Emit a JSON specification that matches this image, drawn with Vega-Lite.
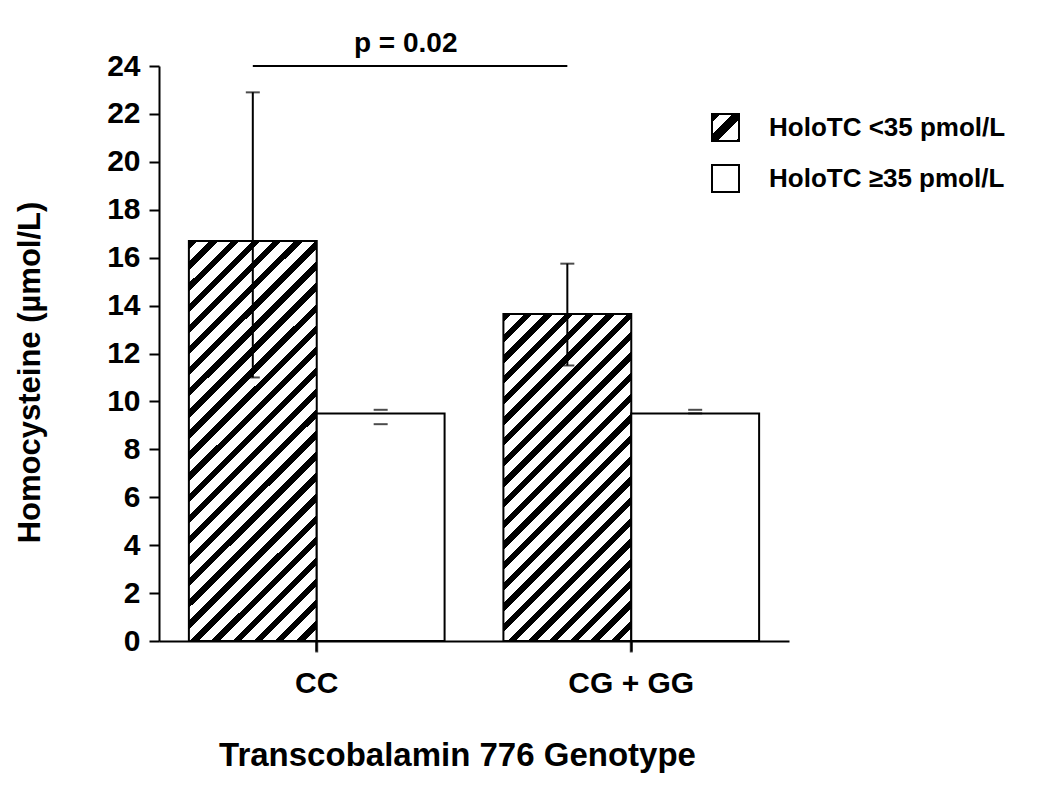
{
  "$schema": "https://vega.github.io/schema/vega-lite/v6.json",
  "width": 630,
  "height": 575,
  "autosize": {"type": "none"},
  "padding": {"left": 159, "top": 66, "right": 261, "bottom": 148},
  "background": "white",
  "config": {
    "font": "Liberation Sans",
    "view": {"stroke": null},
    "axis": {
      "domainColor": "black", "tickColor": "black", "domainWidth": 2, "tickWidth": 2,
      "labelColor": "black", "titleColor": "black", "labelFont": "Liberation Sans", "titleFont": "Liberation Sans",
      "labelFontWeight": "bold", "titleFontWeight": "bold", "grid": false
    },
    "axisX": {"labelAngle": 0, "tickSize": 10, "labelPadding": 32, "labelBaseline": "middle", "labelFontSize": 30,
      "titleFontSize": 33, "titleX": 298, "titleY": 114, "titleBaseline": "middle", "titleAlign": "center"},
    "axisY": {"tickSize": 10, "labelPadding": 9, "labelFontSize": 30, "titleFontSize": 31, "titleX": -129, "titleY": 306,
      "titleAlign": "center", "titleBaseline": "middle", "titleAngle": -90}
  },
  "datasets": {
    "bars": [
      {"genotype": "CC", "holotc": "HoloTC <35 pmol/L", "mean": 16.7, "lower": 11.0, "upper": 22.9},
      {"genotype": "CC", "holotc": "HoloTC ≥35 pmol/L", "mean": 9.5, "lower": 9.05, "upper": 9.65},
      {"genotype": "CG + GG", "holotc": "HoloTC <35 pmol/L", "mean": 13.65, "lower": 11.5, "upper": 15.75},
      {"genotype": "CG + GG", "holotc": "HoloTC ≥35 pmol/L", "mean": 9.5, "lower": 9.5, "upper": 9.65}
    ],
    "bracket": [
      {"genotype": "CC", "level": 24},
      {"genotype": "CG + GG", "level": 24}
    ],
    "note": [
      {"genotype": "CC", "level": 24.58, "label": "p = 0.02"}
    ]
  },
  "layer": [
    {
      "data": {"name": "bars"},
      "mark": {"type": "bar", "stroke": "black", "strokeWidth": 2},
      "encoding": {
        "x": {"field": "genotype", "type": "nominal", "title": "Transcobalamin 776 Genotype",
          "scale": {"domain": ["CC", "CG + GG"], "paddingInner": 0.187, "paddingOuter": 0.095}},
        "xOffset": {"field": "holotc", "type": "nominal",
          "scale": {"domain": ["HoloTC <35 pmol/L", "HoloTC ≥35 pmol/L"], "paddingInner": 0, "paddingOuter": 0}},
        "y": {"field": "mean", "type": "quantitative", "title": "Homocysteine (µmol/L)",
          "scale": {"domain": [0, 24], "nice": false},
          "axis": {"values": [0, 2, 4, 6, 8, 10, 12, 14, 16, 18, 20, 22, 24]}},
        "fill": {
          "condition": [
            {"test": "datum.holotc === 'HoloTC <35 pmol/L' && datum.genotype === 'CC'",
             "value": {"gradient": "linear", "x1": 0, "y1": 0, "x2": 0.3815, "y2": 1.1971, "stops": [
              {"offset": 0, "color": "#000"}, {"offset": 0.016, "color": "#000"}, {"offset": 0.016, "color": "#fff"}, {"offset": 0.04, "color": "#fff"},
              {"offset": 0.04, "color": "#000"}, {"offset": 0.056, "color": "#000"}, {"offset": 0.056, "color": "#fff"}, {"offset": 0.08, "color": "#fff"},
              {"offset": 0.08, "color": "#000"}, {"offset": 0.096, "color": "#000"}, {"offset": 0.096, "color": "#fff"}, {"offset": 0.12, "color": "#fff"},
              {"offset": 0.12, "color": "#000"}, {"offset": 0.136, "color": "#000"}, {"offset": 0.136, "color": "#fff"}, {"offset": 0.16, "color": "#fff"},
              {"offset": 0.16, "color": "#000"}, {"offset": 0.176, "color": "#000"}, {"offset": 0.176, "color": "#fff"}, {"offset": 0.2, "color": "#fff"},
              {"offset": 0.2, "color": "#000"}, {"offset": 0.216, "color": "#000"}, {"offset": 0.216, "color": "#fff"}, {"offset": 0.24, "color": "#fff"},
              {"offset": 0.24, "color": "#000"}, {"offset": 0.256, "color": "#000"}, {"offset": 0.256, "color": "#fff"}, {"offset": 0.28, "color": "#fff"},
              {"offset": 0.28, "color": "#000"}, {"offset": 0.296, "color": "#000"}, {"offset": 0.296, "color": "#fff"}, {"offset": 0.32, "color": "#fff"},
              {"offset": 0.32, "color": "#000"}, {"offset": 0.336, "color": "#000"}, {"offset": 0.336, "color": "#fff"}, {"offset": 0.36, "color": "#fff"},
              {"offset": 0.36, "color": "#000"}, {"offset": 0.376, "color": "#000"}, {"offset": 0.376, "color": "#fff"}, {"offset": 0.4, "color": "#fff"},
              {"offset": 0.4, "color": "#000"}, {"offset": 0.416, "color": "#000"}, {"offset": 0.416, "color": "#fff"}, {"offset": 0.44, "color": "#fff"},
              {"offset": 0.44, "color": "#000"}, {"offset": 0.456, "color": "#000"}, {"offset": 0.456, "color": "#fff"}, {"offset": 0.48, "color": "#fff"},
              {"offset": 0.48, "color": "#000"}, {"offset": 0.496, "color": "#000"}, {"offset": 0.496, "color": "#fff"}, {"offset": 0.52, "color": "#fff"},
              {"offset": 0.52, "color": "#000"}, {"offset": 0.536, "color": "#000"}, {"offset": 0.536, "color": "#fff"}, {"offset": 0.56, "color": "#fff"},
              {"offset": 0.56, "color": "#000"}, {"offset": 0.576, "color": "#000"}, {"offset": 0.576, "color": "#fff"}, {"offset": 0.6, "color": "#fff"},
              {"offset": 0.6, "color": "#000"}, {"offset": 0.616, "color": "#000"}, {"offset": 0.616, "color": "#fff"}, {"offset": 0.64, "color": "#fff"},
              {"offset": 0.64, "color": "#000"}, {"offset": 0.656, "color": "#000"}, {"offset": 0.656, "color": "#fff"}, {"offset": 0.68, "color": "#fff"},
              {"offset": 0.68, "color": "#000"}, {"offset": 0.696, "color": "#000"}, {"offset": 0.696, "color": "#fff"}, {"offset": 0.72, "color": "#fff"},
              {"offset": 0.72, "color": "#000"}, {"offset": 0.736, "color": "#000"}, {"offset": 0.736, "color": "#fff"}, {"offset": 0.76, "color": "#fff"},
              {"offset": 0.76, "color": "#000"}, {"offset": 0.776, "color": "#000"}, {"offset": 0.776, "color": "#fff"}, {"offset": 0.8, "color": "#fff"},
              {"offset": 0.8, "color": "#000"}, {"offset": 0.816, "color": "#000"}, {"offset": 0.816, "color": "#fff"}, {"offset": 0.84, "color": "#fff"},
              {"offset": 0.84, "color": "#000"}, {"offset": 0.856, "color": "#000"}, {"offset": 0.856, "color": "#fff"}, {"offset": 0.88, "color": "#fff"},
              {"offset": 0.88, "color": "#000"}, {"offset": 0.896, "color": "#000"}, {"offset": 0.896, "color": "#fff"}, {"offset": 0.92, "color": "#fff"},
              {"offset": 0.92, "color": "#000"}, {"offset": 0.936, "color": "#000"}, {"offset": 0.936, "color": "#fff"}, {"offset": 0.96, "color": "#fff"},
              {"offset": 0.96, "color": "#000"}, {"offset": 0.976, "color": "#000"}, {"offset": 0.976, "color": "#fff"}, {"offset": 1, "color": "#fff"}
             ]}},
            {"test": "datum.holotc === 'HoloTC <35 pmol/L' && datum.genotype === 'CG + GG'",
             "value": {"gradient": "linear", "x1": 0, "y1": 0, "x2": 0.4715, "y2": 1.2066, "stops": [
              {"offset": 0, "color": "#000"}, {"offset": 0.0182, "color": "#000"}, {"offset": 0.0182, "color": "#fff"}, {"offset": 0.0455, "color": "#fff"},
              {"offset": 0.0455, "color": "#000"}, {"offset": 0.0636, "color": "#000"}, {"offset": 0.0636, "color": "#fff"}, {"offset": 0.0909, "color": "#fff"},
              {"offset": 0.0909, "color": "#000"}, {"offset": 0.1091, "color": "#000"}, {"offset": 0.1091, "color": "#fff"}, {"offset": 0.1364, "color": "#fff"},
              {"offset": 0.1364, "color": "#000"}, {"offset": 0.1545, "color": "#000"}, {"offset": 0.1545, "color": "#fff"}, {"offset": 0.1818, "color": "#fff"},
              {"offset": 0.1818, "color": "#000"}, {"offset": 0.2, "color": "#000"}, {"offset": 0.2, "color": "#fff"}, {"offset": 0.2273, "color": "#fff"},
              {"offset": 0.2273, "color": "#000"}, {"offset": 0.2455, "color": "#000"}, {"offset": 0.2455, "color": "#fff"}, {"offset": 0.2727, "color": "#fff"},
              {"offset": 0.2727, "color": "#000"}, {"offset": 0.2909, "color": "#000"}, {"offset": 0.2909, "color": "#fff"}, {"offset": 0.3182, "color": "#fff"},
              {"offset": 0.3182, "color": "#000"}, {"offset": 0.3364, "color": "#000"}, {"offset": 0.3364, "color": "#fff"}, {"offset": 0.3636, "color": "#fff"},
              {"offset": 0.3636, "color": "#000"}, {"offset": 0.3818, "color": "#000"}, {"offset": 0.3818, "color": "#fff"}, {"offset": 0.4091, "color": "#fff"},
              {"offset": 0.4091, "color": "#000"}, {"offset": 0.4273, "color": "#000"}, {"offset": 0.4273, "color": "#fff"}, {"offset": 0.4545, "color": "#fff"},
              {"offset": 0.4545, "color": "#000"}, {"offset": 0.4727, "color": "#000"}, {"offset": 0.4727, "color": "#fff"}, {"offset": 0.5, "color": "#fff"},
              {"offset": 0.5, "color": "#000"}, {"offset": 0.5182, "color": "#000"}, {"offset": 0.5182, "color": "#fff"}, {"offset": 0.5455, "color": "#fff"},
              {"offset": 0.5455, "color": "#000"}, {"offset": 0.5636, "color": "#000"}, {"offset": 0.5636, "color": "#fff"}, {"offset": 0.5909, "color": "#fff"},
              {"offset": 0.5909, "color": "#000"}, {"offset": 0.6091, "color": "#000"}, {"offset": 0.6091, "color": "#fff"}, {"offset": 0.6364, "color": "#fff"},
              {"offset": 0.6364, "color": "#000"}, {"offset": 0.6545, "color": "#000"}, {"offset": 0.6545, "color": "#fff"}, {"offset": 0.6818, "color": "#fff"},
              {"offset": 0.6818, "color": "#000"}, {"offset": 0.7, "color": "#000"}, {"offset": 0.7, "color": "#fff"}, {"offset": 0.7273, "color": "#fff"},
              {"offset": 0.7273, "color": "#000"}, {"offset": 0.7455, "color": "#000"}, {"offset": 0.7455, "color": "#fff"}, {"offset": 0.7727, "color": "#fff"},
              {"offset": 0.7727, "color": "#000"}, {"offset": 0.7909, "color": "#000"}, {"offset": 0.7909, "color": "#fff"}, {"offset": 0.8182, "color": "#fff"},
              {"offset": 0.8182, "color": "#000"}, {"offset": 0.8364, "color": "#000"}, {"offset": 0.8364, "color": "#fff"}, {"offset": 0.8636, "color": "#fff"},
              {"offset": 0.8636, "color": "#000"}, {"offset": 0.8818, "color": "#000"}, {"offset": 0.8818, "color": "#fff"}, {"offset": 0.9091, "color": "#fff"},
              {"offset": 0.9091, "color": "#000"}, {"offset": 0.9273, "color": "#000"}, {"offset": 0.9273, "color": "#fff"}, {"offset": 0.9545, "color": "#fff"},
              {"offset": 0.9545, "color": "#000"}, {"offset": 0.9727, "color": "#000"}, {"offset": 0.9727, "color": "#fff"}, {"offset": 1, "color": "#fff"}
             ]}}
          ],
          "field": "holotc", "type": "nominal",
          "scale": {"domain": ["HoloTC <35 pmol/L", "HoloTC ≥35 pmol/L"],
            "range": [{"expr": "{gradient: 'linear', x1: 0, y1: 0, x2: 1, y2: 1, stops: [{offset: 0, color: '#000'}, {offset: 0.15, color: '#000'}, {offset: 0.15, color: '#fff'}, {offset: 0.38, color: '#fff'}, {offset: 0.38, color: '#000'}, {offset: 0.6, color: '#000'}, {offset: 0.6, color: '#fff'}, {offset: 0.93, color: '#fff'}, {offset: 0.93, color: '#000'}, {offset: 1, color: '#000'}]}"}, "white"]},
          "legend": {"title": null, "orient": "none", "legendX": 552, "legendY": 47, "padding": 0,
            "symbolType": "square", "symbolSize": 729, "symbolStrokeColor": "black", "symbolStrokeWidth": 2,
            "labelFont": "Liberation Sans", "labelFontSize": 26, "labelFontWeight": "bold", "labelColor": "black",
            "labelOffset": 29, "rowPadding": 16, "labelLimit": 400}
        }
      }
    },
    {
      "data": {"name": "bars"},
      "transform": [{"filter": "datum.holotc === 'HoloTC <35 pmol/L'"}],
      "mark": {"type": "rule", "strokeWidth": 2, "color": "black"},
      "encoding": {
        "x": {"field": "genotype", "type": "nominal", "title": "Transcobalamin 776 Genotype", "scale": {"domain": ["CC", "CG + GG"]}},
        "xOffset": {"field": "holotc", "type": "nominal", "scale": {"domain": ["HoloTC <35 pmol/L", "HoloTC ≥35 pmol/L"]}},
        "y": {"field": "lower", "type": "quantitative", "title": "Homocysteine (µmol/L)"},
        "y2": {"field": "upper"}
      }
    },
    {
      "data": {"name": "bars"},
      "mark": {"type": "tick", "size": 14, "thickness": 2, "color": "black"},
      "encoding": {
        "x": {"field": "genotype", "type": "nominal", "title": "Transcobalamin 776 Genotype", "scale": {"domain": ["CC", "CG + GG"]}},
        "xOffset": {"field": "holotc", "type": "nominal", "scale": {"domain": ["HoloTC <35 pmol/L", "HoloTC ≥35 pmol/L"]}},
        "y": {"field": "upper", "type": "quantitative", "title": "Homocysteine (µmol/L)"}
      }
    },
    {
      "data": {"name": "bars"},
      "mark": {"type": "tick", "size": 14, "thickness": 2, "color": "black"},
      "encoding": {
        "x": {"field": "genotype", "type": "nominal", "title": "Transcobalamin 776 Genotype", "scale": {"domain": ["CC", "CG + GG"]}},
        "xOffset": {"field": "holotc", "type": "nominal", "scale": {"domain": ["HoloTC <35 pmol/L", "HoloTC ≥35 pmol/L"]}},
        "y": {"field": "lower", "type": "quantitative", "title": "Homocysteine (µmol/L)"}
      }
    },
    {
      "data": {"name": "bracket"},
      "mark": {"type": "line", "strokeWidth": 2, "color": "black"},
      "encoding": {
        "x": {"field": "genotype", "type": "nominal", "title": "Transcobalamin 776 Genotype", "bandPosition": 0.25, "scale": {"domain": ["CC", "CG + GG"]}},
        "y": {"field": "level", "type": "quantitative", "title": "Homocysteine (µmol/L)"}
      }
    },
    {
      "data": {"name": "bracket"},
      "mark": {"type": "tick", "orient": "vertical", "size": 11, "thickness": 3, "color": "black", "clip": false, "yOffset": 6},
      "encoding": {
        "x": {"field": "genotype", "type": "nominal", "title": "Transcobalamin 776 Genotype", "bandPosition": 0.5, "scale": {"domain": ["CC", "CG + GG"]}},
        "y": {"datum": 0, "type": "quantitative", "title": "Homocysteine (µmol/L)"}
      }
    },
    {
      "data": {"name": "note"},
      "mark": {"type": "text", "fontSize": 28, "fontWeight": "bold", "font": "Liberation Sans", "align": "center", "baseline": "alphabetic", "color": "black"},
      "encoding": {
        "x": {"field": "genotype", "type": "nominal", "title": "Transcobalamin 776 Genotype", "bandPosition": 0.848, "scale": {"domain": ["CC", "CG + GG"]}},
        "y": {"field": "level", "type": "quantitative", "title": "Homocysteine (µmol/L)"},
        "text": {"field": "label"}
      }
    }
  ]
}
